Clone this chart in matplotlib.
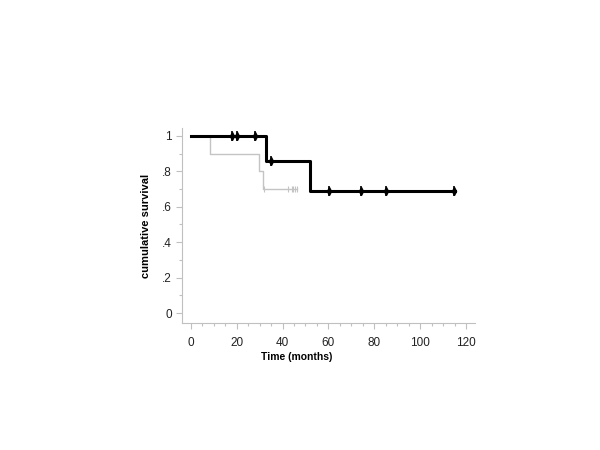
import matplotlib
matplotlib.use("Agg")
import matplotlib.pyplot as plt
from matplotlib.ticker import MultipleLocator, FixedLocator

plt.rcParams['font.family'] = ['Liberation Sans', 'DejaVu Sans']

# Group A (thick black)
a_times = [0, 33, 52, 115]
a_surv = [1.0, 0.857, 0.686, 0.686]
a_cens_t = [17.8, 20.2, 28.2, 34.9, 60.1, 74.2, 85.0, 114.8]
a_cens_s = [1.0, 1.0, 1.0, 0.857, 0.686, 0.686, 0.686, 0.686]

# Group B (thin gray)
b_times = [0, 8.3, 29.8, 31.3, 46.2]
b_surv = [1.0, 0.9, 0.8, 0.7, 0.7]
b_cens_t = [31.8, 42.5, 44.0, 44.7, 45.4, 46.2]
b_cens_s = [0.7, 0.7, 0.7, 0.7, 0.7, 0.7]

x_ticks = [0, 20, 40, 60, 80, 100, 120]
y_ticks = [0, 0.2, 0.4, 0.6, 0.8, 1.0]
y_labels = ['0', '.2', '.4', '.6', '.8', '1']

fig = plt.figure(figsize=(6, 4.5), dpi=100)
ax = fig.add_axes([0.303, 0.282, 0.489, 0.434])

ax.step(b_times, b_surv, where='post', color='#c4c4c4', lw=1.0, zorder=2)
ax.plot(b_cens_t, b_cens_s, linestyle='none', marker='|', color='#c4c4c4',
        markersize=4, markeredgewidth=0.8, zorder=2)

ax.step(a_times, a_surv, where='post', color='black', lw=2.2, zorder=3)
ax.plot(a_cens_t, a_cens_s, linestyle='none', marker='d', color='black',
        markersize=4, zorder=4)
ax.plot(a_cens_t, a_cens_s, linestyle='none', marker='|', color='black',
        markersize=6.5, markeredgewidth=1.2, zorder=4)

ax.set_xlim(-3.9, 124)
ax.set_ylim(-0.056, 1.045)

for s in ['top', 'right']:
    ax.spines[s].set_visible(False)
for s in ['left', 'bottom']:
    ax.spines[s].set_color('#c0c0c0')
    ax.spines[s].set_linewidth(0.8)

ax.xaxis.set_major_locator(FixedLocator(x_ticks))
ax.xaxis.set_minor_locator(MultipleLocator(5))
ax.yaxis.set_major_locator(FixedLocator(y_ticks))
ax.set_yticklabels(y_labels)
ax.yaxis.set_minor_locator(MultipleLocator(0.1))

ax.tick_params(axis='both', which='both', color='#c0c0c0', width=0.8,
               labelsize=8.5, labelcolor='#222222')
ax.tick_params(axis='both', which='major', length=4)
ax.tick_params(axis='both', which='minor', length=2.5)
ax.tick_params(axis='x', which='major', pad=6)
ax.tick_params(axis='y', which='major', pad=3)

ax.set_xlabel('Time (months)', fontsize=7.5, fontweight='bold')
ax.xaxis.set_label_coords(0.39, -0.149)
ax.set_ylabel('cumulative survival', fontsize=8.0, fontweight='bold')
ax.yaxis.set_label_coords(-0.106, 0.5)

fig.savefig('out.png', dpi=100)
